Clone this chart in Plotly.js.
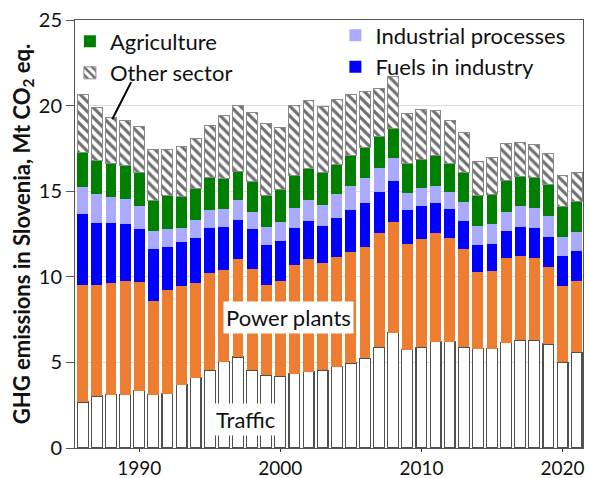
<!DOCTYPE html>
<html>
<head>
<meta charset="utf-8">
<script src="https://cdn.plot.ly/plotly-3.0.1.min.js"></script>
<style>html,body{margin:0;padding:0;background:#fff;}#chart{width:589px;height:478px;}</style>
</head>
<body>
<div id="chart"></div>
<script>
const years = [1986,1987,1988,1989,1990,1991,1992,1993,1994,1995,1996,1997,1998,1999,2000,2001,2002,2003,2004,2005,2006,2007,2008,2009,2010,2011,2012,2013,2014,2015,2016,2017,2018,2019,2020,2021];
const traffic = [2.69,3.04,3.12,3.12,3.34,3.12,3.18,3.69,4.10,4.53,5.03,5.31,4.53,4.25,4.18,4.35,4.45,4.53,4.74,4.96,5.23,5.89,6.73,5.74,5.89,6.22,6.22,5.89,5.80,5.80,6.15,6.28,6.28,6.07,5.01,5.58];
const powerPlants = [6.85,6.50,6.50,6.66,6.34,5.45,6.03,5.77,5.52,5.71,5.35,5.71,5.95,5.29,5.60,6.32,6.57,6.30,6.42,6.47,6.50,6.68,6.46,6.20,6.32,6.35,6.07,5.76,4.46,4.54,4.93,4.94,4.80,4.53,4.45,4.20];
const fuelsIndustry = [4.14,3.63,3.55,3.33,3.10,3.08,2.52,2.56,2.67,2.60,2.52,2.31,2.30,2.32,2.30,2.19,2.23,2.15,2.30,2.48,2.57,2.38,2.38,1.95,1.90,1.75,1.66,1.60,1.60,1.60,1.62,1.68,1.76,1.75,1.76,1.73];
const industrialProcesses = [1.54,1.64,1.52,1.41,1.33,1.05,1.05,0.84,1.04,1.07,1.05,1.13,1.03,1.06,1.11,1.17,1.21,1.24,1.35,1.39,1.49,1.40,1.35,1.00,1.05,0.98,1.00,1.13,1.12,1.13,1.11,1.21,1.19,1.19,1.13,1.11];
const agriculture = [2.05,1.97,1.95,1.99,1.99,1.78,1.97,1.83,1.85,1.89,1.78,1.68,1.76,1.83,1.89,1.91,1.89,1.86,1.76,1.77,1.75,1.85,1.75,1.75,1.72,1.77,1.69,1.70,1.77,1.76,1.84,1.75,1.76,1.84,1.78,1.78];
const otherSector = [3.37,3.12,2.66,2.61,2.67,2.96,2.69,2.95,2.87,3.05,3.72,3.86,4.04,4.22,3.67,4.06,3.94,3.88,3.80,3.59,3.26,2.81,3.05,2.91,2.92,2.64,2.48,2.32,1.97,2.11,2.11,1.97,1.91,1.83,1.81,1.70];
const xTicks = [1990,2000,2010,2020];
const yTicks = [0,5,10,15,20,25];

const W = 0.77;
const traces = [
  {name:'Traffic', y:traffic, marker:{color:'#ffffff', line:{color:'#505050', width:1.2}}, showlegend:false},
  {name:'Power plants', y:powerPlants, marker:{color:'#ED7D31', line:{width:0}}, showlegend:false},
  {name:'Fuels in industry', y:fuelsIndustry, marker:{color:'#0000FF', line:{width:0}}, legend:'legend2'},
  {name:'Industrial processes', y:industrialProcesses, marker:{color:'#AAAAFF', line:{width:0}}, legend:'legend2'},
  {name:'Agriculture', y:agriculture, marker:{color:'#008000', line:{width:0}}, legend:'legend'},
  {name:'Other sector', y:otherSector, marker:{color:'#ffffff', line:{color:'#8a8a8a', width:1},
     pattern:{shape:'\\', fgcolor:'#707070', bgcolor:'#ffffff', size:7, solidity:0.45}}, legend:'legend'}
].map(t => Object.assign({type:'bar', x:years, width:W, hoverinfo:'skip'}, t));

const FONT = 'Lato, "Open Sans", sans-serif';
const layout = {
  width:589, height:478,
  margin:{l:75, r:6, t:20, b:30},
  paper_bgcolor:'#ffffff', plot_bgcolor:'#ffffff',
  barmode:'stack',
  font:{family:FONT, size:20, color:'#111'},
  xaxis:{range:[1985.45,2021.45], tickvals:xTicks, ticks:'outside', ticklen:3, tickcolor:'#333',
         showgrid:false, zeroline:false, showline:true, linecolor:'#555', mirror:true,
         tickfont:{size:19, family:FONT}},
  yaxis:{range:[0,25], tickvals:yTicks, ticks:'outside', ticklen:8, tickcolor:'#555',
         showgrid:true, gridcolor:'#dddddd', zeroline:false, showline:true, linecolor:'#555', mirror:true,
         tickfont:{size:20, family:FONT},
         title:{text:'GHG emissions in Slovenia, Mt CO<sub>2</sub> eq.', font:{size:22, family:FONT, weight:'bold'}, standoff:2}},
  legend:{x:-0.01, y:0.999, xanchor:'left', yanchor:'top', traceorder:'normal', bgcolor:'rgba(0,0,0,0)',
          font:{size:22, family:FONT}, itemwidth:30, tracegroupgap:0},
  legend2:{x:0.5126, y:1.013, xanchor:'left', yanchor:'top', traceorder:'reversed', bgcolor:'rgba(0,0,0,0)',
          font:{size:22, family:FONT}, itemwidth:30, tracegroupgap:0},
  annotations:[
    {x:2000.6, y:7.6, xref:'x', yref:'y', text:'Power plants', showarrow:false, bgcolor:'#ffffff',
     font:{size:22, family:FONT, color:'#111'}, borderpad:2},
    {x:1997.5, y:1.65, xref:'x', yref:'y', text:'Traffic', showarrow:false, bgcolor:'#ffffff',
     font:{size:22, family:FONT, color:'#111'}, borderpad:2}
  ],
  shapes:[
    {type:'line', xref:'x', yref:'y', x0:1989.43, y0:21.37, x1:1988.09, y1:19.2, line:{color:'#000', width:2}}
  ]
};
Plotly.newPlot('chart', traces, layout, {displayModeBar:false, staticPlot:true});
</script>
</body>
</html>
